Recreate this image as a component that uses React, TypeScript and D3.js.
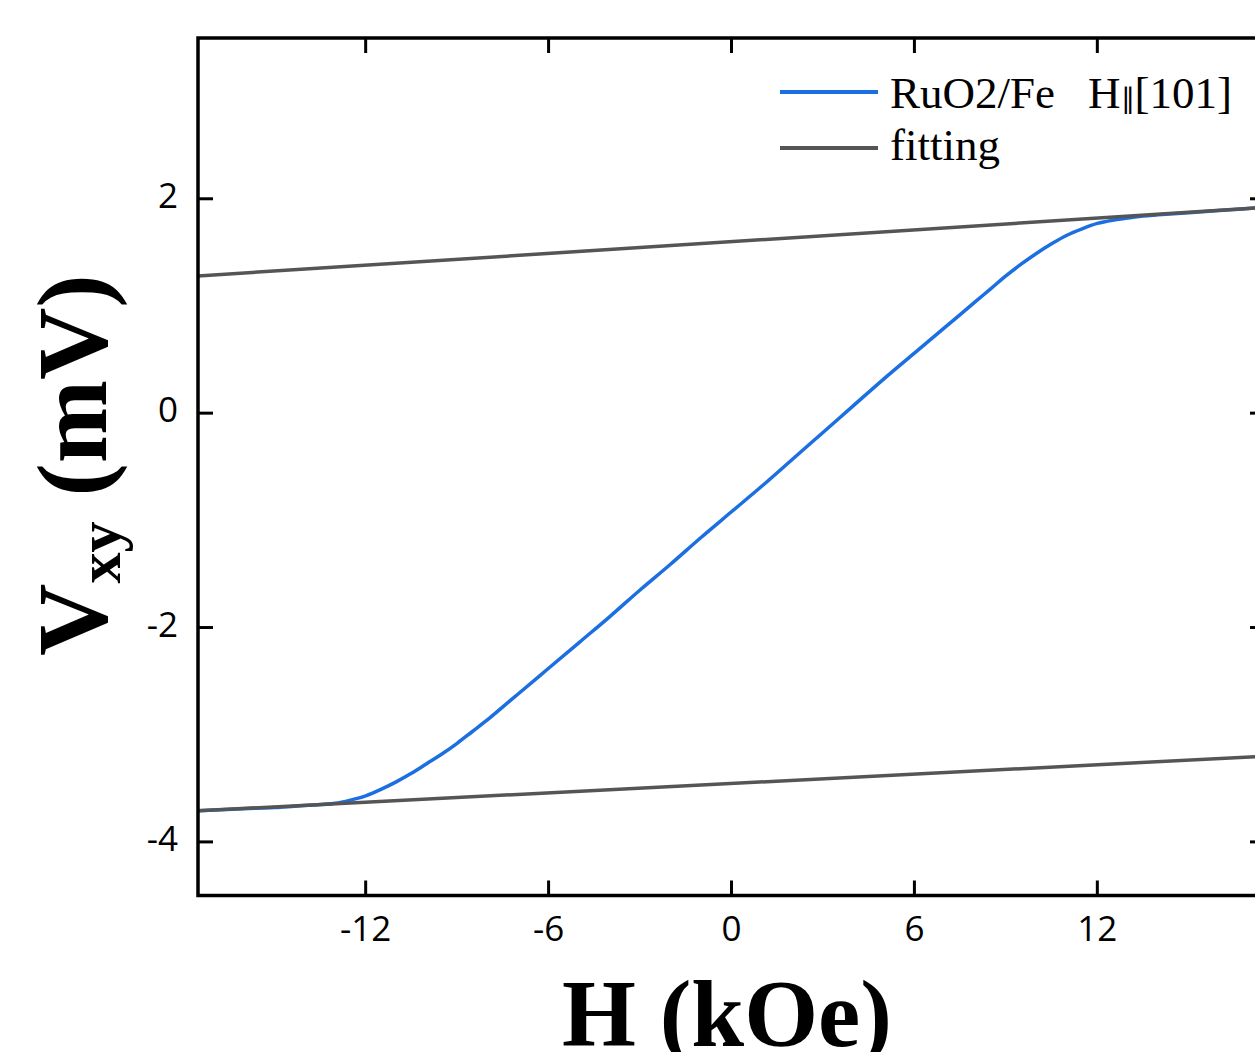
import React from "react";
import * as d3 from "d3";

// field (kOe) and measured Vxy (mV) for RuO2/Fe
const fieldH = [
  -17.5, -16, -15, -14, -13, -12.5, -12, -11.5, -11, -10.5, -10, -9.5, -9, -8.5, -8, -7.5, -7,
  -6, -5, -4, -3, -2, -1, 0, 1, 2, 3, 4, 5, 6, 7, 7.5, 8, 8.5, 9, 9.5, 10, 10.5, 11, 11.5, 12,
  12.5, 13, 13.5, 14, 15, 16, 17.5,
];
const vxy = [
  -3.71, -3.69, -3.68, -3.66, -3.64, -3.61, -3.57, -3.51, -3.44, -3.36, -3.27, -3.18, -3.08, -2.97,
  -2.86, -2.74, -2.62, -2.38, -2.14, -1.9, -1.65, -1.41, -1.16, -0.92, -0.68, -0.43, -0.18, 0.07,
  0.32, 0.56, 0.8, 0.92, 1.04, 1.16, 1.28, 1.39, 1.49, 1.58, 1.66, 1.72, 1.77, 1.8, 1.82, 1.84,
  1.85, 1.87, 1.89, 1.92,
];

// linear fits of the saturated branches
const fitH = [-17.5, 17.5];
const fitUpper = [1.28, 1.92];
const fitLower = [-3.71, -3.2];

const xTicks = [-12, -6, 0, 6, 12];
const yTicks = [-4, -2, 0, 2];

const left = 198;
const right = 1265;
const top = 38;
const bottom = 895.5;

export default function App() {
  const x = d3.scaleLinear().domain([-17.5, 17.5]).range([left, right]);
  const y = d3.scaleLinear().domain([-4.5, 3.5]).range([bottom, top]);

  const line = d3
    .line<number>()
    .x((_, i) => x(fieldH[i]))
    .y((d) => y(d))
    .curve(d3.curveMonotoneX);

  const fitLine = (vals: number[]) =>
    d3
      .line<number>()
      .x((_, i) => x(fitH[i]))
      .y((d) => y(d))(vals) || "";

  const tickFont = "'Open Sans', 'Noto Sans', sans-serif";
  const serif = "'Liberation Serif', 'Times New Roman', serif";

  return (
    <svg
      width={1255}
      height={1052}
      style={{ position: "absolute", left: 0, top: 0, background: "#fff" }}
    >
      <defs>
        <clipPath id="plot">
          <rect x={left} y={top} width={right - left} height={bottom - top} />
        </clipPath>
      </defs>

      <g clipPath="url(#plot)">
        <path d={line(vxy) || ""} fill="none" stroke="#1b6fe0" strokeWidth={3.5} />
        <path d={fitLine(fitUpper)} fill="none" stroke="#555" strokeWidth={3.5} />
        <path d={fitLine(fitLower)} fill="none" stroke="#555" strokeWidth={3.5} />
      </g>

      {/* frame */}
      <rect
        x={left}
        y={top}
        width={right - left}
        height={bottom - top}
        fill="none"
        stroke="#000"
        strokeWidth={3.5}
      />

      {xTicks.map((t) => (
        <g key={"x" + t}>
          <line x1={x(t)} x2={x(t)} y1={bottom} y2={bottom - 15} stroke="#000" strokeWidth={3} />
          <line x1={x(t)} x2={x(t)} y1={top} y2={top + 15} stroke="#000" strokeWidth={3} />
          <text
            x={x(t)}
            y={941}
            textAnchor="middle"
            fontFamily={tickFont}
            fontSize={35}
            fill="#000"
          >
            {t}
          </text>
        </g>
      ))}

      {yTicks.map((t) => (
        <g key={"y" + t}>
          <line x1={left} x2={left + 15} y1={y(t)} y2={y(t)} stroke="#000" strokeWidth={3} />
          <line x1={right} x2={right - 15} y1={y(t)} y2={y(t)} stroke="#000" strokeWidth={3} />
          <text
            x={178}
            y={y(t) + 9}
            textAnchor="end"
            fontFamily={tickFont}
            fontSize={35}
            fill="#000"
          >
            {t}
          </text>
        </g>
      ))}

      {/* axis titles */}
      <text
        x={727}
        y={1046}
        textAnchor="middle"
        fontFamily={serif}
        fontWeight="bold"
        fontSize={95}
        fill="#000"
      >
        H (kOe)
      </text>
      <text
        transform="translate(106, 465) rotate(-90)"
        textAnchor="middle"
        fontFamily={serif}
        fontWeight="bold"
        fontSize={100}
        fill="#000"
      >
        V
        <tspan fontSize={62} dy={14}>
          xy
        </tspan>
        <tspan dy={-14}> (mV)</tspan>
      </text>

      {/* legend */}
      <line x1={780} x2={878} y1={92} y2={92} stroke="#1b6fe0" strokeWidth={4} />
      <line x1={780} x2={878} y1={148} y2={148} stroke="#555" strokeWidth={4} />
      <text x={890} y={108} fontFamily={serif} fontSize={45} fill="#000">
        RuO2/Fe
      </text>
      <text x={1088} y={108} fontFamily={serif} fontSize={45} fill="#000">
        H<tspan fontSize={28}>∥</tspan>[101]
      </text>
      <text x={890} y={160} fontFamily={serif} fontSize={45} fill="#000">
        fitting
      </text>
    </svg>
  );
}
